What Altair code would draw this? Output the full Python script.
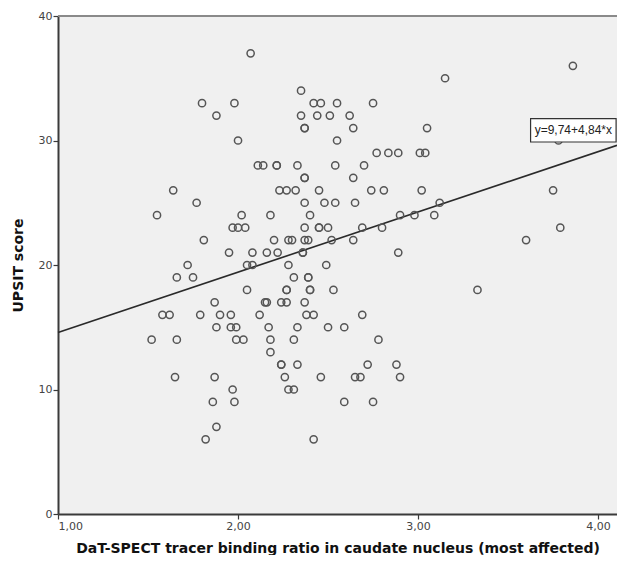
import altair as alt
import pandas as pd

# Scatter data (DaT-SPECT binding ratio, UPSIT score)
ratio = [
    2.07,
    3.86,
    3.15,
    2.35,
    1.80, 1.98, 2.42, 2.46, 2.55, 2.75,
    1.88, 2.35, 2.44, 2.51, 2.62,
    2.37, 2.37, 2.64, 3.05,
    2.00, 2.55, 3.78,
    2.77, 2.835, 2.89, 3.01, 3.04,
    2.11, 2.14, 2.215, 2.215, 2.33, 2.54, 2.70,
    2.37, 2.37, 2.64,
    1.64, 2.23, 2.27, 2.32, 2.45, 2.74, 2.81, 3.02, 3.75,
    1.77, 2.37, 2.48, 2.54, 2.65, 3.12,
    1.55, 2.02, 2.18, 2.40, 2.90, 2.98, 3.09,
    1.97, 2.00, 2.04, 2.37, 2.45, 2.45, 2.50, 2.69, 2.80, 3.79,
    1.81, 2.20, 2.28, 2.30, 2.37, 2.39, 2.52, 2.64, 3.60,
    1.95, 2.08, 2.16, 2.22, 2.36, 2.36, 2.89,
    1.72, 2.05, 2.08, 2.28, 2.49,
    1.66, 1.75, 2.31, 2.39, 2.39,
    2.05, 2.27, 2.27, 2.40, 2.40, 2.53, 3.33,
    1.87, 2.15, 2.16, 2.24, 2.27, 2.37,
    1.58, 1.62, 1.79, 1.90, 1.96, 2.12, 2.38, 2.42, 2.69,
    1.88, 1.96, 1.99, 2.17, 2.33, 2.50, 2.59,
    1.52, 1.66, 1.99, 2.03, 2.18, 2.31, 2.78,
    2.18,
    2.24, 2.24, 2.33, 2.72, 2.88,
    1.65, 1.87, 2.26, 2.46, 2.65, 2.68, 2.90,
    1.97, 2.28, 2.31,
    1.86, 1.98, 2.59, 2.75,
    1.88,
    1.82, 2.42,
]
upsit = [
    37,
    36,
    35,
    34,
    33, 33, 33, 33, 33, 33,
    32, 32, 32, 32, 32,
    31, 31, 31, 31,
    30, 30, 30,
    29, 29, 29, 29, 29,
    28, 28, 28, 28, 28, 28, 28,
    27, 27, 27,
    26, 26, 26, 26, 26, 26, 26, 26, 26,
    25, 25, 25, 25, 25, 25,
    24, 24, 24, 24, 24, 24, 24,
    23, 23, 23, 23, 23, 23, 23, 23, 23, 23,
    22, 22, 22, 22, 22, 22, 22, 22, 22,
    21, 21, 21, 21, 21, 21, 21,
    20, 20, 20, 20, 20,
    19, 19, 19, 19, 19,
    18, 18, 18, 18, 18, 18, 18,
    17, 17, 17, 17, 17, 17,
    16, 16, 16, 16, 16, 16, 16, 16, 16,
    15, 15, 15, 15, 15, 15, 15,
    14, 14, 14, 14, 14, 14, 14,
    13,
    12, 12, 12, 12, 12,
    11, 11, 11, 11, 11, 11, 11,
    10, 10, 10,
    9, 9, 9, 9,
    7,
    6, 6,
]

# Fit line as printed in the chart label
intercept = 9.74
slope = 4.84
line_x = [1.0, 4.105]
fit_label = "y=9,74+4,84*x"

# Axis settings
x_ticks = [1, 2, 3, 4]
y_ticks = [0, 10, 20, 30, 40]
x_domain = [1.0, 4.105]
y_domain = [0, 40]

# Label box placement (data coordinates)
box_x = [3.625, 4.1]
box_y = [29.88, 31.75]

pts = pd.DataFrame({"ratio": ratio, "upsit": upsit})
line_df = pd.DataFrame({"ratio": line_x, "upsit": [intercept + slope * v for v in line_x]})
box_df = pd.DataFrame({"x": [box_x[0]], "x2": [box_x[1]], "y": [box_y[0]], "y2": [box_y[1]],
                       "xm": [(box_x[0] + box_x[1]) / 2], "ym": [(box_y[0] + box_y[1]) / 2],
                       "label": [fit_label]})

x_scale = alt.Scale(domain=x_domain, nice=False, zero=False)
y_scale = alt.Scale(domain=y_domain, nice=False)

x_axis = alt.Axis(
    values=x_ticks,
    labelExpr="replace(format(datum.value, '.2f'), '.', ',')",
    title="DaT-SPECT tracer binding ratio in caudate nucleus (most affected)",
    titlePadding=10,
)
y_axis = alt.Axis(values=y_ticks, title="UPSIT score", titlePadding=13)

points = alt.Chart(pts).mark_point(
    shape="circle", filled=False, size=52, strokeWidth=1.5, color="#555555", opacity=1
).encode(
    x=alt.X("ratio:Q", scale=x_scale, axis=x_axis),
    y=alt.Y("upsit:Q", scale=y_scale, axis=y_axis),
)

fit = alt.Chart(line_df).mark_line(color="#2a2a2a", strokeWidth=1.6).encode(
    x=alt.X("ratio:Q", scale=x_scale),
    y=alt.Y("upsit:Q", scale=y_scale),
)

top_border = alt.Chart(pts).mark_rule(color="#8a8a8a", strokeWidth=1.2).encode(
    y=alt.datum(y_domain[1])
)

box = alt.Chart(box_df).mark_rect(fill="white", stroke="#333333", strokeWidth=1.2).encode(
    x="x:Q", x2="x2:Q", y="y:Q", y2="y2:Q"
)

label = alt.Chart(box_df).mark_text(
    font="Liberation Sans", fontSize=12, color="#222222"
).encode(x="xm:Q", y="ym:Q", text="label:N")

chart = alt.layer(top_border, fit, points, box, label).properties(
    width=559,
    height=498,
    autosize=alt.AutoSizeParams(type="none"),
    padding={"left": 50, "top": 8, "right": 0, "bottom": 41},
    background="white",
).configure_view(
    fill="#f0f0f0", stroke="transparent", strokeWidth=0
).configure_axis(
    grid=False,
    domainColor="#3a3a3a",
    domainWidth=2,
    tickColor="#3a3a3a",
    tickSize=5,
    tickWidth=1.2,
    labelFont="DejaVu Sans",
    labelFontSize=11,
    labelColor="#444444",
    labelPadding=1,
    titleFont="DejaVu Sans",
    titleFontSize=14,
    titleFontWeight="bold",
    titleColor="#111111",
)

chart.save("out.html", embed_options={"renderer": "svg", "actions": False})
